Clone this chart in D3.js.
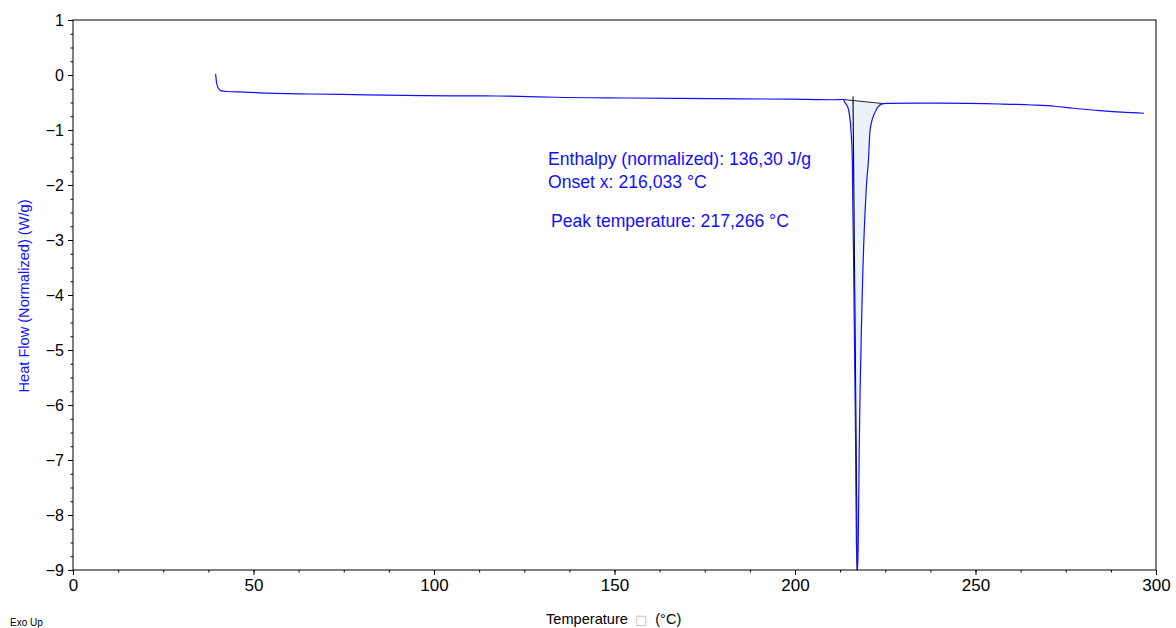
<!DOCTYPE html>
<html>
<head>
<meta charset="utf-8">
<script src="https://cdn.jsdelivr.net/npm/d3@7"></script>
<style>
  html, body { margin: 0; padding: 0; background: #fff; }
  svg { display: block; font-family: "Liberation Sans", Arial, sans-serif; }
</style>
</head>
<body>
<svg id="chart" width="1176" height="628"></svg>
<script>
// ---- data ----
const temperature = [39.5, 39.8, 40.25, 41.2, 42.6, 47.6, 54.0, 66.2, 81.4, 96.7, 114.0, 123.8, 133.5, 154.3, 177.3, 199.2, 210.5, 213.3, 213.8, 214.7, 215.5, 215.9, 216.0, 216.2, 216.5, 216.8, 217.0, 217.27, 217.5, 217.8, 218.5, 219.9, 220.3, 220.8, 222.2, 223.5, 224.5, 225.4, 240.0, 256.8, 265.6, 272.0, 277.0, 284.5, 290.5, 296.7];
const heatFlow    = [0.02, -0.15, -0.24, -0.29, -0.30, -0.31, -0.33, -0.345, -0.36, -0.376, -0.38, -0.387, -0.405, -0.418, -0.43, -0.44, -0.45, -0.445, -0.50, -0.60, -1.0, -1.6, -2.27, -3.2, -5.0, -6.8, -8.45, -9.05, -8.58, -6.76, -4.33, -1.91, -1.6, -1.0, -0.67, -0.545, -0.52, -0.515, -0.512, -0.527, -0.545, -0.568, -0.605, -0.648, -0.676, -0.695];

const integrationStart = [213.3, -0.445];
const integrationEnd   = [224.5, -0.52];
const onsetTangentTop    = [216.07, -0.39];
const onsetTangentBottom = [217.25, -9.0];

const xTicks = [0, 50, 100, 150, 200, 250, 300];
const yTicks = [1, 0, -1, -2, -3, -4, -5, -6, -7, -8, -9];
const annotations = [
  "Enthalpy (normalized): 136,30 J/g",
  "Onset x: 216,033 °C",
  "Peak temperature: 217,266 °C"
];
const xTitle = "Temperature";
const yTitle = "Heat Flow (Normalized)  (W/g)";
const cornerLabel = "Exo Up";

// ---- layout ----
const svg = d3.select("#chart");
const mLeft = 73, mRight = 1156, mTop = 20, mBottom = 570;
const x = d3.scaleLinear().domain([0, 300]).range([mLeft, mRight]);
const y = d3.scaleLinear().domain([-9, 1]).range([mBottom, mTop]);

const data = temperature.map((t, i) => ({ t, v: heatFlow[i] }));
const blue = "#1010ff";

svg.append("clipPath").attr("id", "plotClip")
  .append("rect").attr("x", mLeft).attr("y", mTop).attr("width", mRight - mLeft).attr("height", mBottom - mTop + 0.5);

const g = svg.append("g").attr("clip-path", "url(#plotClip)");

// integration shaded area
const baseAt = t => integrationStart[1] + (t - integrationStart[0]) * (integrationEnd[1] - integrationStart[1]) / (integrationEnd[0] - integrationStart[0]);
const peakData = data.filter(d => d.t >= integrationStart[0] && d.t <= integrationEnd[0]);
g.append("path")
  .datum(peakData)
  .attr("fill", "#eaf3fd")
  .attr("d", d3.area().x(d => x(d.t)).y0(d => y(baseAt(d.t))).y1(d => y(d.v)).curve(d3.curveMonotoneX));

// baseline + tangent
g.append("line")
  .attr("x1", x(integrationStart[0])).attr("y1", y(integrationStart[1]))
  .attr("x2", x(integrationEnd[0])).attr("y2", y(integrationEnd[1]))
  .attr("stroke", "#222").attr("stroke-width", 1);
g.append("line")
  .attr("x1", x(onsetTangentTop[0])).attr("y1", y(onsetTangentTop[1]))
  .attr("x2", x(onsetTangentBottom[0])).attr("y2", y(onsetTangentBottom[1]))
  .attr("stroke", "#000").attr("stroke-width", 1.1);

// curve
g.append("path")
  .datum(data)
  .attr("fill", "none")
  .attr("stroke", blue)
  .attr("stroke-width", 1.2)
  .attr("d", d3.line().x(d => x(d.t)).y(d => y(d.v)).curve(d3.curveMonotoneX));

// frame
svg.append("rect").attr("x", mLeft).attr("y", mTop).attr("width", mRight - mLeft).attr("height", mBottom - mTop)
  .attr("fill", "none").attr("stroke", "#000").attr("stroke-width", 1);

// x axis
const xAxis = svg.append("g").attr("transform", `translate(0,${mBottom})`);
xAxis.call(d3.axisBottom(x).tickValues(d3.range(0, 300.1, 12.5)).tickSize(2.5).tickFormat(""))
  .call(a => a.select(".domain").remove());
xAxis.append("g").call(d3.axisBottom(x).tickValues(xTicks).tickSize(5).tickPadding(4).tickFormat(d3.format("d")))
  .call(a => a.select(".domain").remove())
  .call(a => a.selectAll("text").attr("font-size", 17).attr("fill", "#000").attr("font-family", "Liberation Sans, Arial, sans-serif"));

// y axis
const yAxis = svg.append("g").attr("transform", `translate(${mLeft},0)`);
yAxis.call(d3.axisLeft(y).tickValues(d3.range(-9, 1.01, 0.25)).tickSize(2.5).tickFormat(""))
  .call(a => a.select(".domain").remove());
yAxis.append("g").call(d3.axisLeft(y).tickValues(yTicks).tickSize(5).tickPadding(4).tickFormat(d3.format("d")))
  .call(a => a.select(".domain").remove())
  .call(a => a.selectAll("text").attr("font-size", 16).attr("fill", "#000").attr("font-family", "Liberation Sans, Arial, sans-serif"));
svg.selectAll(".tick line").attr("stroke", "#000");

// annotations
const ann = svg.append("g").attr("fill", blue).attr("font-size", 17.6);
ann.append("text").attr("x", 548).attr("y", 165).text(annotations[0]);
ann.append("text").attr("x", 548).attr("y", 188).text(annotations[1]);
ann.append("text").attr("x", 551).attr("y", 227).text(annotations[2]);

// axis titles
svg.append("text")
  .attr("transform", "translate(29,296) rotate(-90)")
  .attr("text-anchor", "middle").attr("font-size", 14.6).attr("fill", blue)
  .text(yTitle);

const xt = svg.append("text").attr("x", 546).attr("y", 624).attr("font-size", 14.6).attr("fill", "#000");
xt.append("tspan").text(xTitle);
xt.append("tspan").attr("dx", 7).attr("fill", "#bbb").attr("font-size", 13).attr("font-family", "DejaVu Sans").text("\u25A1");
xt.append("tspan").attr("dx", 8).text("(°C)");

svg.append("text").attr("x", 10).attr("y", 626).attr("font-size", 10).attr("fill", "#000").text(cornerLabel);
</script>
</body>
</html>
